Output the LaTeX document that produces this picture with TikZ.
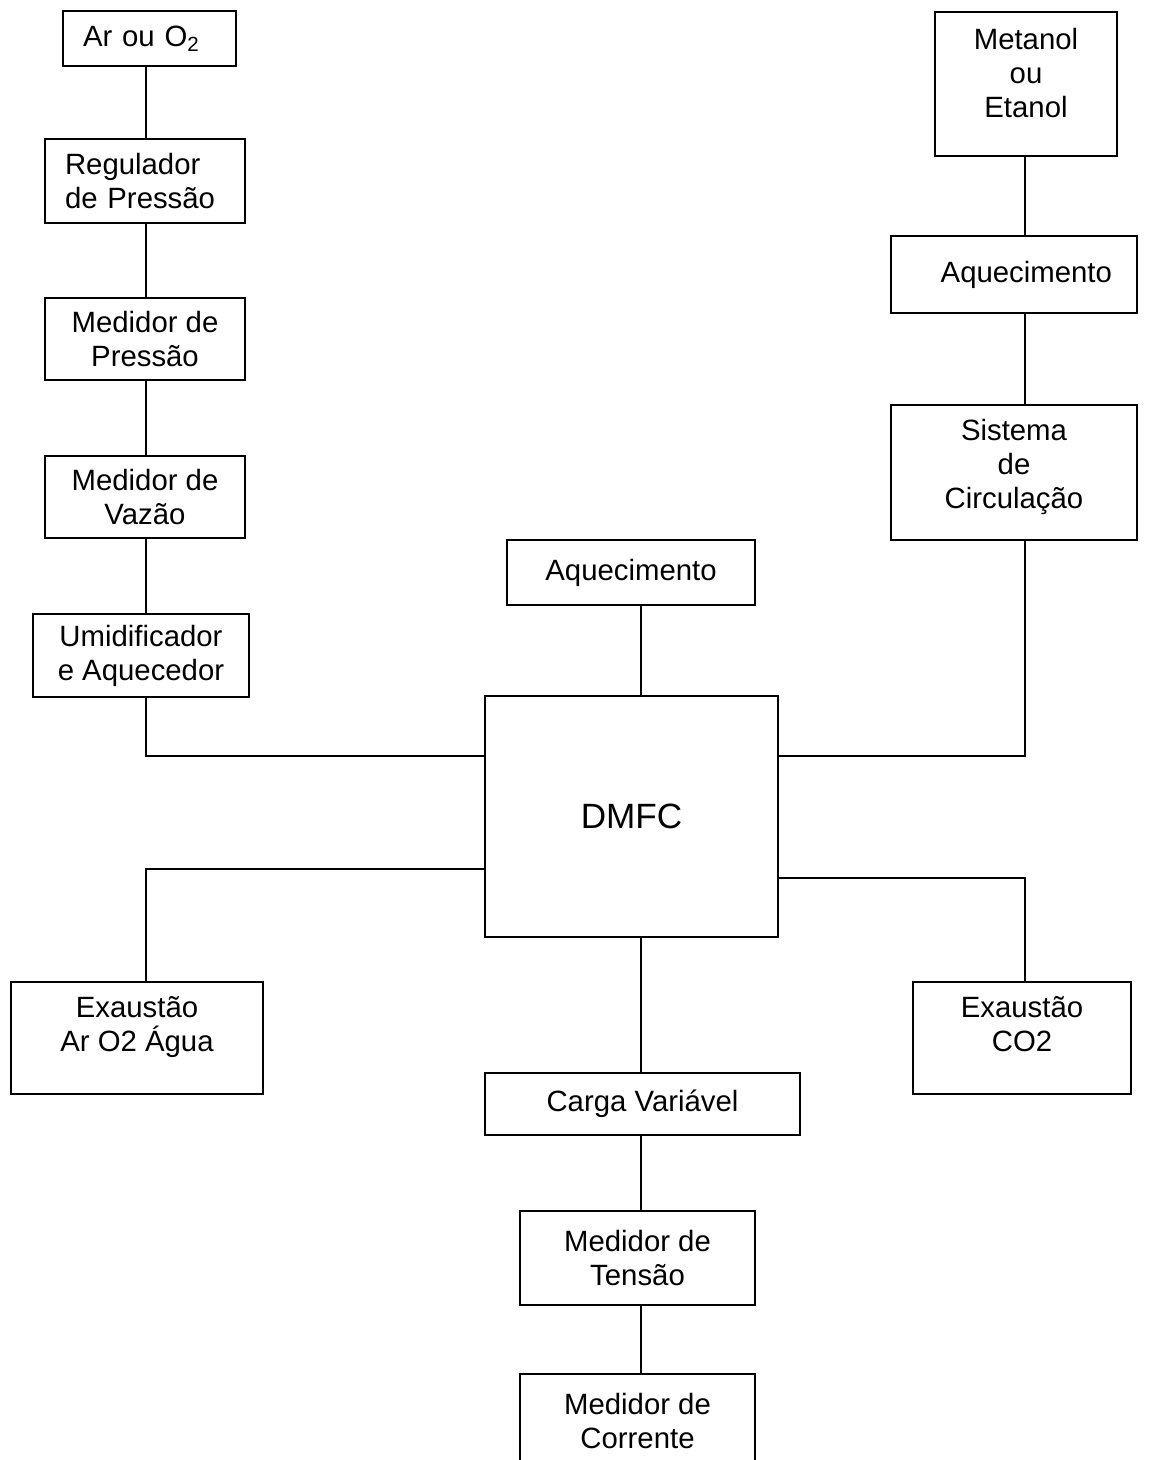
\documentclass[tikz,border=0pt]{standalone}
\usepackage{fontspec}
\setmainfont{Liberation Sans}
\usetikzlibrary{
    positioning,      % For placing nodes relative to each other
    calc              % For calculating coordinates
}

\begin{document}
\begin{tikzpicture}[
    % Units: one unit is one pixel of the page, y grows downwards
    x=0.02cm, y=-0.02cm,
    % Style for the boxes of the diagram
    caixa/.style={
        draw,
        line width=1.1pt,
        align=center,
        inner sep=0pt,
        font=\fontsize{16.7}{19.3}\selectfont
    },
    % Style for the connecting lines
    liga/.style={
        line width=1.1pt
    },
    % Style for text sitting high in its box
    sobe/.style={
        text depth=#1
    }
]
    % 0. Page size and clipping (the last box runs off the page)
    \useasboundingbox (0,0) rectangle (1153,1460);
    \clip (0,0) rectangle (1153,1460);

    % 1. Columns and rows used by the connectors
    \coordinate (colEsq) at (146,0);
    \coordinate (colCentro) at (641,0);
    \coordinate (colDir) at (1025,0);
    \coordinate (linhaEntrada) at (0,756);
    \coordinate (linhaSaidaAr) at (0,869);
    \coordinate (linhaSaidaCO2) at (0,878);

    % 2. Air / oxygen line (left column)
    \node[caixa, minimum width=3.46cm, minimum height=1.10cm, inner xsep=0.4cm, text width=2.66cm, align=left] (arO2) at (149.5,38.5) {Ar ou O\textsubscript{2}};
    \node[caixa, minimum width=4.00cm, minimum height=1.68cm, inner xsep=0.4cm, text width=3.2cm, align=left] (regulador) at (145,181) {Regulador\\de Pressão};
    \node[caixa, minimum width=4.00cm, minimum height=1.64cm] (medPressao) at (145,339) {Medidor de\\Pressão};
    \node[caixa, minimum width=4.00cm, minimum height=1.64cm] (medVazao) at (145,497) {Medidor de\\Vazão};
    \node[caixa, minimum width=4.32cm, minimum height=1.66cm] (umidificador) at (141,655.5) {Umidificador\\e Aquecedor};

    % 3. Fuel line (right column)
    \node[caixa, sobe=0.43cm, minimum width=3.64cm, minimum height=2.88cm] (metanol) at (1026,84) {Metanol\\ou\\Etanol};
    \node[caixa, minimum width=4.92cm, minimum height=1.54cm, inner xsep=0.5cm, text width=3.92cm, align=right] (aquecDir) at (1014,274.5) {Aquecimento};
    \node[caixa, sobe=0.35cm, minimum width=4.92cm, minimum height=2.70cm] (circulacao) at (1014,472.5) {Sistema\\de\\Circulação};

    % 4. Cell and its heating
    \node[caixa, minimum width=4.96cm, minimum height=1.30cm] (aquecCentro) at (631,572.5) {Aquecimento};
    \node[caixa, minimum width=5.86cm, minimum height=4.82cm, font=\fontsize{20}{24}\selectfont] (dmfc) at (631.5,816.5) {DMFC};

    % 5. Exhausts
    \node[caixa, sobe=0.55cm, minimum width=5.04cm, minimum height=2.24cm] (exaustAr) at (137,1038) {Exaustão\\Ar O2 Água};
    \node[caixa, sobe=0.55cm, minimum width=4.36cm, minimum height=2.24cm] (exaustCO2) at (1022,1038) {Exaustão\\CO2};

    % 6. Electrical load and meters (centre column)
    \node[caixa, minimum width=6.30cm, minimum height=1.24cm] (carga) at (642.5,1104) {Carga Variável};
    \node[caixa, minimum width=4.70cm, minimum height=1.88cm] (tensao) at (637.5,1258) {Medidor de\\Tensão};
    \node[caixa, minimum width=4.70cm, minimum height=1.88cm] (corrente) at (637.5,1421) {Medidor de\\Corrente};

    % 7. Connectors of the left column
    \draw[liga] (arO2.south -| colEsq) -- (regulador.north -| colEsq);
    \draw[liga] (regulador.south -| colEsq) -- (medPressao.north -| colEsq);
    \draw[liga] (medPressao.south -| colEsq) -- (medVazao.north -| colEsq);
    \draw[liga] (medVazao.south -| colEsq) -- (umidificador.north -| colEsq);
    \draw[liga] (umidificador.south -| colEsq) |- (dmfc.west |- linhaEntrada);

    % 8. Connectors of the right column
    \draw[liga] (metanol.south -| colDir) -- (aquecDir.north -| colDir);
    \draw[liga] (aquecDir.south -| colDir) -- (circulacao.north -| colDir);
    \draw[liga] (circulacao.south -| colDir) |- (dmfc.east |- linhaEntrada);

    % 9. Exhaust connectors
    \draw[liga] (dmfc.west |- linhaSaidaAr) -| (exaustAr.north -| colEsq);
    \draw[liga] (dmfc.east |- linhaSaidaCO2) -| (exaustCO2.north -| colDir);

    % 10. Connectors of the centre column
    \draw[liga] (aquecCentro.south -| colCentro) -- (dmfc.north -| colCentro);
    \draw[liga] (dmfc.south -| colCentro) -- (carga.north -| colCentro);
    \draw[liga] (carga.south -| colCentro) -- (tensao.north -| colCentro);
    \draw[liga] (tensao.south -| colCentro) -- (corrente.north -| colCentro);

\end{tikzpicture}
\end{document}
